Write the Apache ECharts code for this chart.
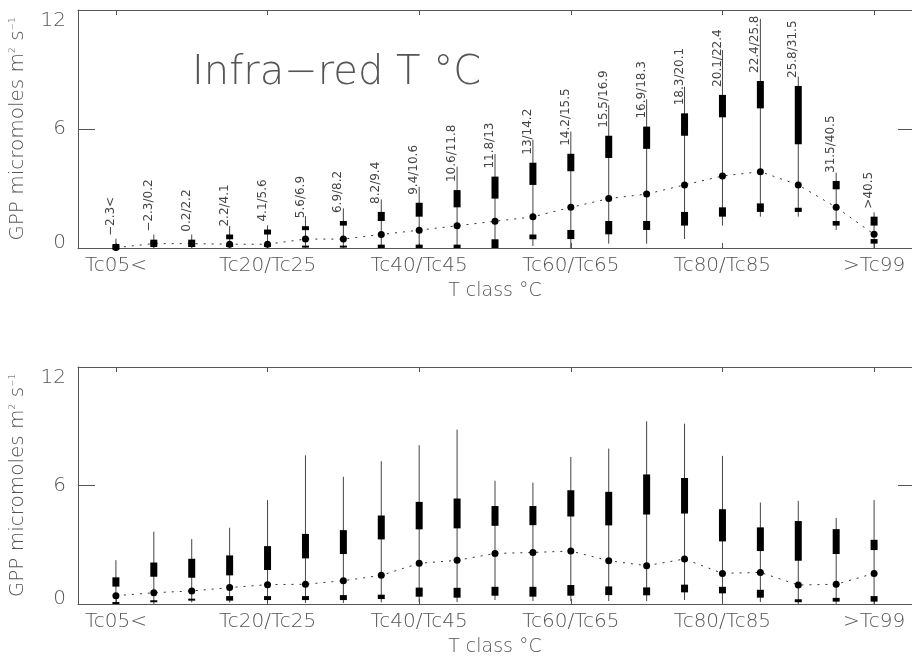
<!DOCTYPE html>
<html>
<head>
<meta charset="UTF-8">
<title>GPP by T class</title>
<script src="https://cdn.jsdelivr.net/npm/echarts@6/dist/echarts.min.js"></script>
<style>
  body { margin: 0; background: #fff; }
</style>
</head>
<body>
	<div id="main" style="width: 912px; height: 658px;"></div>

	<script type="text/javascript">
		// T classes (percentiles), one per position 0..20
		var classNames = ['Tc05<', 'Tc05/Tc10', 'Tc10/Tc15', 'Tc15/Tc20', 'Tc20/Tc25', 'Tc25/Tc30',
			'Tc30/Tc35', 'Tc35/Tc40', 'Tc40/Tc45', 'Tc45/Tc50', 'Tc50/Tc55', 'Tc55/Tc60',
			'Tc60/Tc65', 'Tc65/Tc70', 'Tc70/Tc75', 'Tc75/Tc80', 'Tc80/Tc85', 'Tc85/Tc90',
			'Tc90/Tc95', 'Tc95/Tc99', '>Tc99'];
		var tickPos = [0, 4, 8, 12, 16, 20];

		// temperature range of each class (top panel)
		var tempLabels = ['\u22122.3<', '\u22122.3/0.2', '0.2/2.2', '2.2/4.1', '4.1/5.6', '5.6/6.9',
			'6.9/8.2', '8.2/9.4', '9.4/10.6', '10.6/11.8', '11.8/13', '13/14.2', '14.2/15.5',
			'15.5/16.9', '16.9/18.3', '18.3/20.1', '20.1/22.4', '22.4/25.8', '25.8/31.5',
			'31.5/40.5', '>40.5'];

		// top panel (infra-red T)
		var irMin = [0, 0, 0, 0, 0, 0, 0, 0, 0, 0, 0, 0.1, 0, 0.22, 0.22, 0.45, 1.13, 1.58, 1.58, 0.91, 0];
		var irLo1 = [0, 0.05, 0.05, 0.05, 0.05, 0.02, 0.02, 0, 0, 0, 0, 0.44, 0.45, 0.69, 0.91, 1.13, 1.58, 1.82, 1.82, 1.13, 0.22];
		var irLo2 = [0.02, 0.18, 0.18, 0.15, 0.15, 0.12, 0.12, 0.17, 0.17, 0.17, 0.44, 0.68, 0.91, 1.36, 1.36, 1.82, 2.05, 2.25, 2.03, 1.36, 0.45];
		var irMid = [0.02, 0.22, 0.22, 0.19, 0.19, 0.45, 0.45, 0.68, 0.9, 1.12, 1.35, 1.57, 2.05, 2.49, 2.72, 3.18, 3.63, 3.85, 3.18, 2.05, 0.69];
		var irUp1 = [0.05, 0.2, 0.2, 0.44, 0.68, 0.9, 1.13, 1.36, 1.58, 2.05, 2.49, 3.18, 3.87, 4.54, 5.0, 5.66, 6.59, 7.04, 5.23, 2.96, 1.13];
		var irUp2 = [0.2, 0.42, 0.42, 0.68, 0.93, 1.1, 1.36, 1.82, 2.28, 2.92, 3.6, 4.3, 4.75, 5.66, 6.12, 6.79, 7.72, 8.42, 8.17, 3.38, 1.58];
		var irMax = [0.47, 0.68, 0.68, 1.11, 1.14, 1.6, 2.0, 2.45, 3.09, 4.1, 4.74, 5.45, 5.87, 7.2, 7.5, 8.13, 9.98, 11.55, 8.64, 3.8, 1.8];

		// bottom panel
		var bMin = [0, 0, 0.08, 0.08, 0.05, 0.05, 0.05, 0.08, 0.1, 0.1, 0.2, 0.15, 0.15, 0.15, 0.15, 0.2, 0.1, 0.1, 0, 0, 0];
		var bLo1 = [0.03, 0.1, 0.17, 0.17, 0.2, 0.2, 0.2, 0.25, 0.37, 0.32, 0.42, 0.37, 0.42, 0.45, 0.44, 0.59, 0.54, 0.32, 0.09, 0.12, 0.12];
		var bLo2 = [0.1, 0.19, 0.27, 0.4, 0.4, 0.4, 0.45, 0.47, 0.83, 0.82, 0.87, 0.87, 0.96, 0.89, 0.84, 0.98, 0.87, 0.72, 0.24, 0.31, 0.4];
		var bMid = [0.42, 0.57, 0.66, 0.83, 0.98, 1.0, 1.18, 1.45, 2.06, 2.21, 2.56, 2.61, 2.68, 2.19, 1.94, 2.28, 1.55, 1.6, 0.96, 1.0, 1.55];
		var bUp1 = [0.88, 1.38, 1.33, 1.45, 1.72, 2.31, 2.53, 3.27, 3.78, 3.83, 3.96, 3.99, 4.43, 3.98, 4.53, 4.58, 3.17, 2.68, 2.19, 2.53, 2.73];
		var bUp2 = [1.35, 2.1, 2.29, 2.46, 2.93, 3.55, 3.74, 4.48, 5.17, 5.34, 4.96, 4.96, 5.76, 5.68, 6.56, 6.38, 4.8, 3.88, 4.2, 3.79, 3.25];
		var bMax = [2.22, 3.66, 3.29, 3.86, 5.26, 7.53, 6.44, 7.23, 8.04, 8.83, 6.24, 6.15, 7.45, 7.87, 9.25, 9.13, 7.5, 5.14, 5.22, 4.36, 5.26];

		var FONT = 'DejaVu Sans';
		var TXT = '#555';
		var AXC = '#555';

		function boxRows(mn, l1, l2, u1, u2, mx) {
			return mn.map(function (v, i) {
				return [i, v, l1[i], l2[i], u1[i], u2[i], mx[i]];
			});
		}

		function renderBoxes(params, api) {
			var i = api.value(0);
			var pMin = api.coord([i, api.value(1)]);
			var pL1 = api.coord([i, api.value(2)]);
			var pL2 = api.coord([i, api.value(3)]);
			var pU1 = api.coord([i, api.value(4)]);
			var pU2 = api.coord([i, api.value(5)]);
			var pMax = api.coord([i, api.value(6)]);
			var w = 7;
			return {
				type: 'group',
				children: [
					{ type: 'line', shape: { x1: pMin[0], y1: pMin[1], x2: pMax[0], y2: pMax[1] },
						style: { stroke: '#444', lineWidth: 1 } },
					{ type: 'rect', shape: { x: pL2[0] - w / 2, y: pL2[1], width: w, height: Math.max(pL1[1] - pL2[1], 2) },
						style: { fill: '#000' } },
					{ type: 'rect', shape: { x: pU2[0] - w / 2, y: pU2[1], width: w, height: Math.max(pU1[1] - pU2[1], 2) },
						style: { fill: '#000' } }
				]
			};
		}

		function renderTemp(params, api) {
			var p = api.coord([api.value(0), api.value(1)]);
			return {
				type: 'text',
				x: p[0] + 1,
				y: p[1] - 8,
				rotation: Math.PI / 2,
				style: {
					text: tempLabels[params.dataIndex],
					x: 0, y: 0,
					align: 'left',
					verticalAlign: 'bottom',
					fontSize: 12,
					fontFamily: FONT,
					fill: '#444'
				}
			};
		}

		function xAxes(g) {
			return [{
				type: 'value', gridIndex: g, position: 'bottom', min: -1, max: 21,
				splitLine: { show: false },
				axisLine: { onZero: false, lineStyle: { color: AXC, width: 1 } },
				axisTick: { inside: true, length: 5, customValues: tickPos, lineStyle: { color: AXC } },
				axisLabel: {
					customValues: tickPos, margin: 8, fontSize: 20, fontFamily: FONT, fontWeight: 200, color: TXT,
					formatter: function (v) { return classNames[v]; }
				},
				name: 'T class \u00B0C', nameLocation: 'middle', nameGap: 34,
				nameTextStyle: { fontSize: 19, fontFamily: FONT, fontWeight: 200, color: TXT }
			}, {
				type: 'value', gridIndex: g, position: 'top', min: -1, max: 21,
				splitLine: { show: false },
				axisLine: { onZero: false, lineStyle: { color: AXC, width: 1 } },
				axisTick: { inside: true, length: 5, customValues: tickPos, lineStyle: { color: AXC } },
				axisLabel: { show: false }
			}];
		}

		var yLabelRich = {
			hi: { fontSize: 20, fontFamily: FONT, fontWeight: 200, color: TXT, padding: [22, 0, 0, 0] },
			mid: { fontSize: 20, fontFamily: FONT, fontWeight: 200, color: TXT },
			lo: { fontSize: 20, fontFamily: FONT, fontWeight: 200, color: TXT, padding: [0, 0, 10, 0] }
		};

		function yAxes(g) {
			return [{
				type: 'value', gridIndex: g, position: 'left', min: 0, max: 12, interval: 6,
				splitLine: { show: false },
				axisLine: { show: true, onZero: false, lineStyle: { color: AXC, width: 1 } },
				axisTick: { inside: true, length: 17, lineStyle: { color: AXC } },
				axisLabel: {
					margin: 12, fontSize: 20, fontFamily: FONT, fontWeight: 200, color: TXT,
					formatter: function (v) {
						return v === 12 ? '{hi|12}' : (v === 0 ? '{lo|0}' : '{mid|' + v + '}');
					},
					rich: yLabelRich
				},
				name: 'GPP micromoles m{sup|2} s{sup|\u22121}',
				nameLocation: 'middle', nameGap: 50,
				nameTextStyle: {
					fontSize: 20, fontFamily: FONT, fontWeight: 200, color: TXT,
					rich: { sup: { fontSize: 9, fontFamily: FONT, color: TXT, verticalAlign: 'top', padding: [0, 0, 8, 0] } }
				}
			}, {
				type: 'value', gridIndex: g, position: 'right', min: 0, max: 12, interval: 6,
				splitLine: { show: false },
				axisLine: { show: true, onZero: false, lineStyle: { color: AXC, width: 1 } },
				axisTick: { inside: true, length: 14, lineStyle: { color: AXC } },
				axisLabel: { show: false }
			}];
		}

		var myChart = echarts.init(document.getElementById('main'));
		myChart.setOption({
			backgroundColor: '#fff',
			animation: false,
			grid: [
				{ left: 77, top: 10, width: 836, height: 238 },
				{ left: 77, top: 367, width: 836, height: 237 }
			],
			graphic: [{
				type: 'text', left: 192, top: 54,
				style: { text: 'Infra\u2212red T \u00B0C', fontSize: 40, fontFamily: FONT, fontWeight: 200, fill: TXT }
			}],
			xAxis: xAxes(0).concat(xAxes(1)),
			yAxis: yAxes(0).concat(yAxes(1)),
			series: [{
				type: 'custom', xAxisIndex: 0, yAxisIndex: 0,
				renderItem: renderBoxes,
				encode: { x: 0, y: [1, 2, 3, 4, 5, 6] },
				data: boxRows(irMin, irLo1, irLo2, irUp1, irUp2, irMax)
			}, {
				type: 'line', xAxisIndex: 0, yAxisIndex: 0,
				data: irMid.map(function (v, i) { return [i, v]; }),
				symbol: 'circle', symbolSize: 7,
				itemStyle: { color: '#000' },
				lineStyle: { color: '#333', width: 1, type: [2, 6] },
				z: 3
			}, {
				type: 'custom', xAxisIndex: 0, yAxisIndex: 0,
				renderItem: renderTemp,
				encode: { x: 0, y: 1 },
				data: irUp2.map(function (v, i) { return [i, v]; }),
				z: 4
			}, {
				type: 'custom', xAxisIndex: 2, yAxisIndex: 2,
				renderItem: renderBoxes,
				encode: { x: 0, y: [1, 2, 3, 4, 5, 6] },
				data: boxRows(bMin, bLo1, bLo2, bUp1, bUp2, bMax)
			}, {
				type: 'line', xAxisIndex: 2, yAxisIndex: 2,
				data: bMid.map(function (v, i) { return [i, v]; }),
				symbol: 'circle', symbolSize: 7,
				itemStyle: { color: '#000' },
				lineStyle: { color: '#333', width: 1, type: [2, 6] },
				z: 3
			}]
		});
	</script>
</body>
</html>
